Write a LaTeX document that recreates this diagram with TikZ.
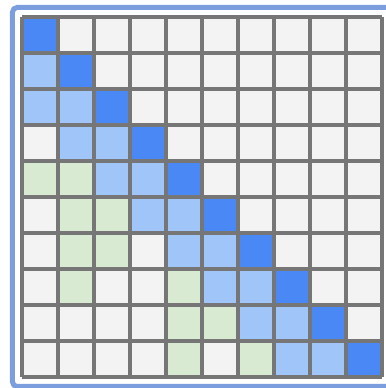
\documentclass[tikz,border=0pt]{standalone}
\usepackage{tikz}
\definecolor{diagblue}{RGB}{74,137,245}
\definecolor{nearblue}{RGB}{160,197,248}
\definecolor{pickgreen}{RGB}{217,234,211}
\definecolor{emptygray}{RGB}{243,243,243}
\definecolor{gridgray}{RGB}{118,118,118}
\definecolor{frameblue}{RGB}{125,158,222}

\begin{document}
\begin{tikzpicture}[x=1.08cm, y=-1.08cm,
    frame/.style={draw=frameblue, line width=1.5mm, rounded corners=1.4mm},
    gridline/.style={draw=gridgray, line width=1.05mm, line cap=square},
    selfcell/.style={fill=diagblue},
    nearcell/.style={fill=nearblue},
    pickcell/.style={fill=pickgreen}]
    \useasboundingbox (-0.611,-0.472) rectangle (10.111,10.306);
    \clip (-0.611,-0.472) rectangle (10.111,10.306);

    % Outer frame
    \draw[frame] (-0.264,-0.264) rectangle (10.264,10.264);

    % Cells
    \fill[emptygray] (0,0) rectangle (10,10);
    \foreach \r in {0,...,9}
        \fill[selfcell] (\r,\r) rectangle ++(1,1);
    \foreach \r in {1,...,9}
        \fill[nearcell] (\r-1,\r) rectangle ++(1,1);
    \foreach \r in {2,...,9}
        \fill[nearcell] (\r-2,\r) rectangle ++(1,1);
    \foreach \r/\c in {4/0,4/1,5/1,5/2,6/1,6/2,7/1,7/4,8/4,8/5,9/4,9/6}
        \fill[pickcell] (\c,\r) rectangle ++(1,1);

    % Grid lines
    \foreach \k in {0,...,10} {
        \draw[gridline] (\k,0) -- (\k,10);
        \draw[gridline] (0,\k) -- (10,\k);
    }
\end{tikzpicture}
\end{document}
